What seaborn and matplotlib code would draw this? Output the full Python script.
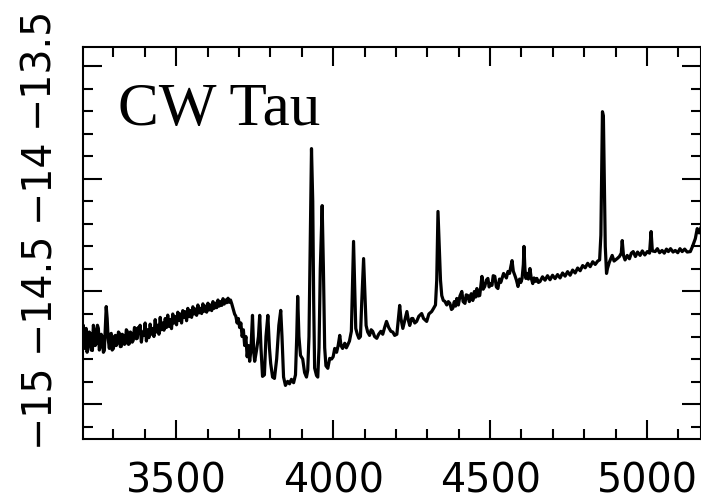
import numpy as np
import pandas as pd
import matplotlib
matplotlib.use("Agg")
import matplotlib.pyplot as plt
import seaborn as sns
from matplotlib.ticker import MultipleLocator

# Wavelength (Angstrom) and log flux
wavelength = [
    3201, 3204, 3207, 3210, 3213, 3216, 3220, 3223, 3226, 3229, 3233, 3236, 3239, 3242, 3245, 3249,
    3252, 3255, 3258, 3261, 3264, 3268, 3271, 3274, 3277, 3280, 3283, 3287, 3290, 3293, 3296, 3300,
    3303, 3306, 3309, 3312, 3316, 3319, 3322, 3325, 3328, 3331, 3335, 3338, 3341, 3344, 3348, 3351,
    3354, 3357, 3360, 3363, 3367, 3370, 3373, 3376, 3379, 3382,
    3385, 3389, 3393, 3397, 3401, 3405, 3409, 3413, 3417, 3421, 3425, 3429, 3433, 3437, 3441, 3445,
    3449, 3453, 3457, 3461, 3465, 3469, 3473, 3477, 3481, 3485, 3489, 3493, 3497, 3501, 3505, 3509,
    3513, 3517, 3521, 3525, 3529, 3533, 3537, 3541, 3545, 3549, 3553, 3557, 3561, 3565, 3569, 3573,
    3577, 3581, 3585, 3589, 3593, 3597, 3601, 3605, 3609, 3613, 3617, 3621, 3625, 3629, 3633, 3637,
    3641, 3645, 3649, 3653, 3657, 3661, 3665, 3669, 3673, 3677, 3681, 3686,
    3690, 3694, 3698, 3702, 3706, 3710, 3714, 3718, 3722, 3726, 3730, 3734, 3738,
    3743, 3747, 3750, 3756, 3762, 3766, 3770,
    3775, 3781, 3786, 3792, 3797, 3801, 3807, 3813, 3820, 3827, 3833, 3837, 3842, 3848, 3855, 3861,
    3867, 3874, 3880, 3884, 3887, 3891, 3896, 3903, 3909, 3915, 3919, 3923, 3927, 3931, 3935, 3938,
    3941, 3947, 3951, 3955, 3959, 3965, 3969, 3973, 3977, 3983, 3989, 3995, 4000,
    4005, 4011, 4016, 4021, 4025, 4030, 4037, 4042, 4046, 4052, 4058, 4062, 4065, 4068, 4072, 4077,
    4082, 4087, 4091, 4097, 4101, 4105, 4110, 4116, 4121, 4126, 4132, 4139, 4145, 4152, 4158, 4164,
    4170, 4177, 4184, 4190, 4196, 4203, 4208, 4212, 4216, 4222, 4228, 4235, 4240, 4244, 4250, 4254,
    4260, 4266, 4273, 4282, 4288, 4298, 4305, 4314, 4320, 4326, 4330, 4334, 4338, 4342, 4346, 4351,
    4356, 4362, 4367,
    4372, 4377, 4381, 4386, 4390, 4394, 4399, 4404, 4410, 4414, 4420, 4424, 4429, 4434, 4440, 4445,
    4450, 4454, 4458, 4462, 4467, 4471, 4474, 4478, 4483, 4488, 4493, 4497, 4502, 4506, 4510, 4515,
    4520, 4525, 4530, 4534, 4538, 4543, 4547, 4552, 4557, 4562, 4566, 4570, 4574, 4579, 4584, 4589,
    4594, 4598, 4602, 4606, 4608, 4611, 4614, 4618, 4622, 4627, 4631, 4636, 4640, 4645, 4649, 4654,
    4659, 4667, 4675,
    4683, 4691, 4699, 4707, 4715, 4723, 4731, 4739, 4747, 4755, 4763, 4771, 4779, 4787, 4795, 4803,
    4811, 4819, 4827, 4835, 4843, 4849, 4853, 4856, 4858, 4861, 4864, 4867, 4871, 4874, 4880, 4889,
    4895, 4905, 4912, 4918, 4921, 4925, 4930, 4937, 4944, 4950, 4956, 4963, 4970, 4978, 4985, 4993,
    5001, 5008, 5013, 5017, 5026, 5033, 5040, 5048, 5055, 5062, 5068, 5075, 5083, 5090, 5098, 5105,
    5112, 5120, 5128, 5138, 5145, 5154, 5160, 5166, 5172,
]
log_flux = [
    -14.708, -14.650, -14.753, -14.680, -14.664, -14.770, -14.731, -14.680, -14.686, -14.760, -14.762, -14.650, -14.673, -14.740, -14.731, -14.650,
    -14.664, -14.760, -14.744, -14.690, -14.700, -14.770, -14.762, -14.660, -14.567, -14.620, -14.708, -14.753, -14.690, -14.686, -14.760, -14.753,
    -14.700, -14.695, -14.740, -14.731, -14.680, -14.686, -14.745, -14.744, -14.690, -14.695, -14.735, -14.731, -14.670, -14.677, -14.735, -14.731,
    -14.680, -14.686, -14.725, -14.717, -14.660, -14.664, -14.710, -14.708, -14.660, -14.664,
    -14.650, -14.725, -14.680, -14.695, -14.640, -14.720, -14.670, -14.705, -14.645, -14.690, -14.665, -14.700, -14.625, -14.680, -14.650, -14.690,
    -14.615, -14.670, -14.640, -14.672, -14.620, -14.660, -14.605, -14.655, -14.625, -14.665, -14.600, -14.640, -14.612, -14.648, -14.592, -14.628,
    -14.600, -14.640, -14.585, -14.615, -14.590, -14.630, -14.575, -14.612, -14.585, -14.615, -14.568, -14.600, -14.578, -14.606, -14.560, -14.595,
    -14.575, -14.598, -14.555, -14.588, -14.565, -14.592, -14.552, -14.582, -14.560, -14.585, -14.545, -14.575, -14.552, -14.572, -14.538, -14.565,
    -14.545, -14.562, -14.532, -14.556, -14.538, -14.550, -14.530, -14.548, -14.538, -14.555, -14.575, -14.600,
    -14.610, -14.640, -14.620, -14.660, -14.640, -14.700, -14.670, -14.740, -14.700, -14.790, -14.740, -14.810, -14.760,
    -14.606, -14.770, -14.810, -14.760, -14.700, -14.606, -14.750,
    -14.877, -14.870, -14.700, -14.606, -14.750, -14.820, -14.880, -14.886, -14.800, -14.650, -14.584, -14.700, -14.880, -14.917, -14.899, -14.910,
    -14.890, -14.905, -14.870, -14.700, -14.522, -14.700, -14.784, -14.800, -14.860, -14.880, -14.850, -14.700, -14.300, -13.866, -14.100, -14.550,
    -14.840, -14.873, -14.880, -14.750, -14.400, -14.119, -14.400, -14.750, -14.830, -14.841, -14.797, -14.800, -14.790,
    -14.753, -14.770, -14.740, -14.695, -14.740, -14.753, -14.730, -14.750, -14.739, -14.720, -14.677, -14.450, -14.278, -14.450, -14.664, -14.690,
    -14.708, -14.700, -14.550, -14.354, -14.500, -14.651, -14.680, -14.695, -14.670, -14.677, -14.700, -14.708, -14.690, -14.677, -14.690, -14.660,
    -14.633, -14.660, -14.677, -14.680, -14.695, -14.690, -14.620, -14.562, -14.620, -14.664, -14.630, -14.589, -14.630, -14.651, -14.620, -14.620,
    -14.640, -14.633, -14.610, -14.598, -14.620, -14.633, -14.600, -14.589, -14.575, -14.560, -14.450, -14.145, -14.300, -14.450, -14.518, -14.540,
    -14.544, -14.560, -14.545,
    -14.553, -14.580, -14.575, -14.545, -14.565, -14.531, -14.560, -14.520, -14.500, -14.545, -14.553, -14.515, -14.518, -14.545, -14.510, -14.540,
    -14.500, -14.525, -14.487, -14.520, -14.518, -14.470, -14.433, -14.490, -14.478, -14.450, -14.442, -14.480, -14.465, -14.473, -14.430, -14.433,
    -14.480, -14.487, -14.445, -14.460, -14.442, -14.420, -14.429, -14.440, -14.411, -14.420, -14.390, -14.363, -14.410, -14.429, -14.450, -14.478,
    -14.445, -14.460, -14.442, -14.380, -14.300, -14.400, -14.442, -14.420, -14.445, -14.398, -14.440, -14.465, -14.440, -14.455, -14.442, -14.460,
    -14.456, -14.435, -14.450,
    -14.430, -14.448, -14.428, -14.443, -14.425, -14.440, -14.418, -14.432, -14.412, -14.428, -14.405, -14.418, -14.396, -14.408, -14.385, -14.395,
    -14.375, -14.390, -14.368, -14.380, -14.365, -14.360, -14.250, -13.900, -13.702, -13.720, -14.000, -14.300, -14.420, -14.398, -14.370, -14.340,
    -14.365, -14.354, -14.345, -14.330, -14.274, -14.340, -14.360, -14.340, -14.355, -14.330, -14.323, -14.345, -14.325, -14.340, -14.320, -14.338,
    -14.323, -14.330, -14.234, -14.320, -14.323, -14.310, -14.328, -14.318, -14.330, -14.312, -14.323, -14.310, -14.325, -14.318, -14.328, -14.310,
    -14.323, -14.312, -14.325, -14.323, -14.300, -14.265, -14.221, -14.240, -14.215,
]

x_ticks = [3500, 4000, 4500, 5000]
y_ticks = [-15, -14.5, -14, -13.5]
y_tick_labels = ["\u221215", "\u221214.5", "\u221214", "\u221213.5"]
star_name = "CW Tau"

df = pd.DataFrame({"wavelength": wavelength, "log_flux": log_flux})

sns.set_theme(style="ticks")
plt.rcParams["font.family"] = ["DejaVu Sans"]

fig = plt.figure(figsize=(7.01, 5.03), dpi=100)
ax = fig.add_axes([0.1184, 0.1272, 0.8816, 0.7793])

sns.lineplot(data=df, x="wavelength", y="log_flux", ax=ax, sort=False,
             estimator=None, color="black", linewidth=2.3)

ax.set_xlim(3203, 5172)
ax.set_ylim(-15.155, -13.415)
ax.set_xticks(x_ticks)
ax.set_yticks(y_ticks)
ax.set_xticklabels([str(t) for t in x_ticks])
ax.set_yticklabels(y_tick_labels)
ax.xaxis.set_minor_locator(MultipleLocator(100))
ax.yaxis.set_minor_locator(MultipleLocator(0.1))

ax.tick_params(which="both", direction="in", top=True, right=True, color="black",
               width=1.5, labelcolor="black")
ax.tick_params(which="major", length=14)
ax.tick_params(which="minor", length=7)
ax.tick_params(axis="x", which="major", labelsize=28.5, pad=16)
ax.tick_params(axis="y", which="major", labelsize=28.5, pad=19, labelrotation=90)
for lab in ax.get_yticklabels():
    lab.set_va("center")

for s in ax.spines.values():
    s.set_linewidth(1.5)
    s.set_color("black")

ax.set_xlabel("")
ax.set_ylabel("")

ax.text(0.0567, 0.801, star_name, transform=ax.transAxes, fontsize=44,
        family=["Liberation Serif", "DejaVu Serif"], va="baseline", ha="left", color="black")

fig.savefig("out.png", dpi=100)
